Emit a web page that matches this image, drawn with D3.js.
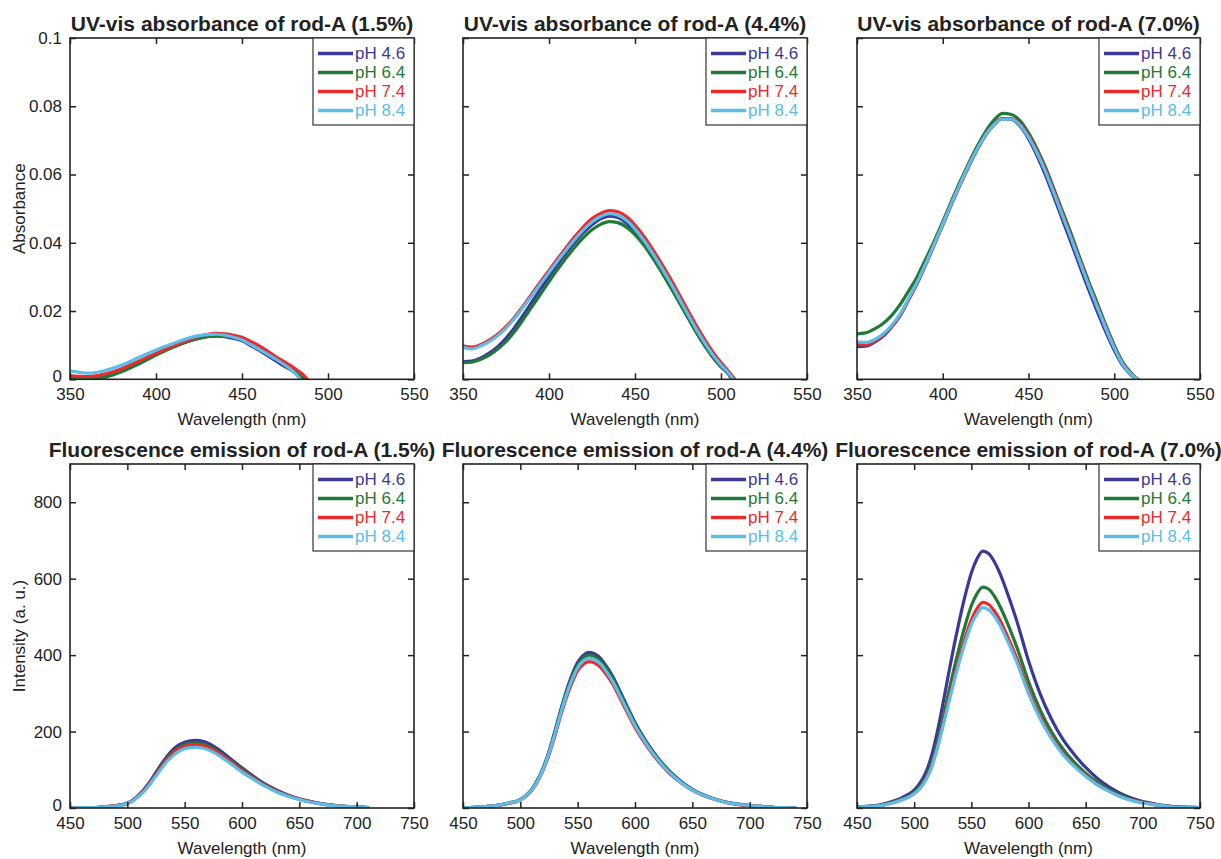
<!DOCTYPE html>
<html>
<head>
<meta charset="utf-8">
<script src="https://cdn.jsdelivr.net/npm/d3@7"></script>
<style>
  html, body { margin: 0; padding: 0; background: #fff; }
  svg { display: block; font-family: "Liberation Sans", Arial, sans-serif; }
</style>
</head>
<body>
<svg id="chart" width="1221" height="859"></svg>
<script>
// ---------------- DATA ----------------
const seriesNames = ["pH 4.6", "pH 6.4", "pH 7.4", "pH 8.4"];
const seriesColors = ["#3b3996", "#1f7a36", "#ec2a2c", "#5bbde9"];

const uvXTicks = [350, 400, 450, 500, 550];
const uvYTicks = [0, 0.02, 0.04, 0.06, 0.08, 0.1];
const uvYTickLabels = ["0", "0.02", "0.04", "0.06", "0.08", "0.1"];
const emXTicks = [450, 500, 550, 600, 650, 700, 750];
const emYTicks = [0, 200, 400, 600, 800];
const emYTickLabels = ["0", "200", "400", "600", "800"];

const titles = [
  "UV-vis absorbance of rod-A (1.5%)", "UV-vis absorbance of rod-A (4.4%)", "UV-vis absorbance of rod-A (7.0%)",
  "Fluorescence emission of rod-A (1.5%)", "Fluorescence emission of rod-A (4.4%)", "Fluorescence emission of rod-A (7.0%)"
];

// UV-vis, 1.5 %
const uvWl15 = [350,355,360,365,370,375,380,385,390,395,400,405,410,415,420,425,430,435,440,445,450,455,460,465,470,475,480,484,485,486,488];
const uv15_pH46 = [0.0006,0.0004,0.0003,0.0005,0.0010,0.0017,0.0025,0.0035,0.0046,0.0060,0.0074,0.0086,0.0097,0.0106,0.0114,0.0121,0.0126,0.0127,0.0125,0.0120,0.0113,0.0099,0.0085,0.0069,0.0053,0.0037,0.0022,0.0004,0,null,null];
const uv15_pH64 = [0,0,0,0.0001,0.0005,0.0013,0.0022,0.0033,0.0045,0.0058,0.0071,0.0083,0.0094,0.0104,0.0113,0.0120,0.0125,0.0127,0.0126,0.0124,0.0119,0.0106,0.0092,0.0075,0.0058,0.0042,0.0026,0.0009,0.0005,0,null];
const uv15_pH74 = [0.0010,0.0009,0.0008,0.0010,0.0015,0.0022,0.0031,0.0042,0.0053,0.0065,0.0076,0.0087,0.0098,0.0108,0.0117,0.0126,0.0132,0.0135,0.0133,0.0129,0.0123,0.0111,0.0098,0.0082,0.0065,0.0050,0.0034,0.0020,0.0016,0.0011,0];
const uv15_pH84 = [0.0025,0.0021,0.0018,0.0020,0.0025,0.0033,0.0041,0.0052,0.0064,0.0075,0.0086,0.0096,0.0105,0.0114,0.0122,0.0128,0.0131,0.0132,0.0129,0.0123,0.0115,0.0102,0.0088,0.0073,0.0058,0.0041,0.0022,0,null,null,null];

// UV-vis, 4.4 %
const uvWl44 = [350,355,360,365,370,375,380,385,390,395,400,405,410,415,420,425,430,435,440,445,450,455,460,465,470,475,480,485,490,495,500,505,506,507,508];
const uv44_pH46 = [0.0052,0.0053,0.0062,0.0076,0.0095,0.0120,0.0152,0.0188,0.0226,0.0264,0.0301,0.0337,0.0371,0.0402,0.0430,0.0453,0.0470,0.0478,0.0474,0.0458,0.0432,0.0399,0.0361,0.0320,0.0277,0.0233,0.0188,0.0143,0.0102,0.0066,0.0036,0.0011,0,null,null];
const uv44_pH64 = [0.0049,0.0050,0.0058,0.0070,0.0088,0.0110,0.0140,0.0175,0.0212,0.0249,0.0286,0.0322,0.0356,0.0387,0.0415,0.0438,0.0454,0.0462,0.0459,0.0446,0.0424,0.0394,0.0358,0.0318,0.0275,0.0232,0.0188,0.0144,0.0104,0.0068,0.0038,0.0012,0.0006,0,null];
const uv44_pH74 = [0.0098,0.0094,0.0101,0.0114,0.0131,0.0154,0.0182,0.0215,0.0250,0.0285,0.0319,0.0353,0.0386,0.0418,0.0447,0.0471,0.0486,0.0494,0.0491,0.0477,0.0452,0.0420,0.0383,0.0343,0.0300,0.0255,0.0209,0.0163,0.0121,0.0082,0.0049,0.0020,0.0013,0.0007,0];
const uv44_pH84 = [0.0094,0.0089,0.0097,0.0110,0.0127,0.0150,0.0178,0.0211,0.0245,0.0279,0.0313,0.0347,0.0379,0.0410,0.0438,0.0461,0.0477,0.0485,0.0481,0.0466,0.0440,0.0408,0.0371,0.0331,0.0288,0.0243,0.0197,0.0152,0.0111,0.0073,0.0042,0.0015,0.0008,0,null];

// UV-vis, 7.0 %
const uvWl70 = [350,355,360,365,370,375,380,385,390,395,400,405,410,415,420,425,430,435,440,445,450,455,460,465,470,475,480,485,490,495,500,505,510,513,514];
const uv70_pH46 = [0.0096,0.0097,0.0108,0.0125,0.0152,0.0185,0.0232,0.0280,0.0335,0.0393,0.0452,0.0511,0.0568,0.0622,0.0672,0.0715,0.0746,0.0764,0.0762,0.0742,0.0705,0.0655,0.0597,0.0532,0.0465,0.0398,0.0330,0.0263,0.0200,0.0140,0.0085,0.0040,0.0012,0,null];
const uv70_pH64 = [0.0133,0.0136,0.0147,0.0163,0.0186,0.0218,0.0258,0.0300,0.0352,0.0405,0.0462,0.0521,0.0578,0.0632,0.0682,0.0726,0.0760,0.0779,0.0776,0.0758,0.0722,0.0675,0.0620,0.0556,0.0490,0.0425,0.0355,0.0288,0.0225,0.0160,0.0100,0.0050,0.0018,0.0003,0];
const uv70_pH74 = [0.0102,0.0101,0.0111,0.0128,0.0154,0.0187,0.0233,0.0282,0.0337,0.0395,0.0454,0.0513,0.0570,0.0624,0.0674,0.0717,0.0749,0.0764,0.0764,0.0748,0.0714,0.0668,0.0612,0.0549,0.0482,0.0415,0.0347,0.0280,0.0216,0.0153,0.0094,0.0045,0.0015,0.0003,0];
const uv70_pH84 = [0.0110,0.0108,0.0116,0.0132,0.0157,0.0190,0.0236,0.0284,0.0338,0.0396,0.0455,0.0514,0.0571,0.0625,0.0674,0.0716,0.0747,0.0762,0.0762,0.0745,0.0710,0.0663,0.0607,0.0543,0.0477,0.0411,0.0343,0.0276,0.0213,0.0150,0.0092,0.0044,0.0014,0.0002,0];

// Fluorescence emission (shared wavelength grid)
const emWl = [450,460,470,480,490,500,505,510,515,520,525,530,535,540,545,550,555,560,565,570,575,580,590,600,610,620,630,640,650,660,670,680,690,700,710,720,730,740,750];
const em15_pH46 = [0,1,1,3,6,13,21,34,50,70,93,116,137,153,165,172,176,177,175,170,162,152,129,105,83,63,47,34,24,17,11,7,4,3,1,null,null,null,null];
const em15_pH64 = [0,1,1,3,6,12,20,33,48,67,89,111,132,147,158,165,169,170,168,163,156,146,124,101,80,61,45,33,23,16,11,7,4,3,1,null,null,null,null];
const em15_pH74 = [0,1,1,3,6,12,20,32,47,66,87,109,128,144,155,161,165,166,164,159,152,143,121,98,78,59,44,32,23,16,10,7,4,3,1,null,null,null,null];
const em15_pH84 = [0,1,1,3,5,12,19,31,45,63,84,104,123,137,148,155,158,159,157,153,146,137,116,94,75,57,42,31,22,15,10,6,4,3,1,null,null,null,null];

const em44_pH46 = [1,2,4,7,13,22,33,49,73,106,148,199,254,305,348,381,400,407,403,391,371,347,286,224,173,131,97,70,49,34,23,15,10,6,4,2,1,0,null];
const em44_pH64 = [1,2,4,7,13,22,32,48,72,104,145,196,250,300,342,374,393,400,396,384,365,341,281,220,170,129,95,69,48,33,23,15,10,6,4,2,1,0,null];
const em44_pH74 = [1,2,4,7,12,21,31,46,69,100,139,187,239,287,327,359,376,383,379,368,349,327,269,211,163,123,91,66,46,32,22,14,9,6,4,2,1,0,null];
const em44_pH84 = [1,2,4,7,13,21,32,47,70,102,143,192,245,294,335,367,385,392,388,377,357,334,275,216,167,126,93,67,47,33,22,14,10,6,4,2,1,0,null];

const em70_pH46 = [2,5,8,16,28,47,65,92,134,196,270,350,426,497,561,615,652,672,666,645,614,575,487,385,300,233,180,140,106,78,56,39,26,17,11,6,3,2,1];
const em70_pH64 = [2,4,7,14,24,40,56,79,115,169,232,301,366,427,482,529,561,578,573,555,528,495,419,331,258,200,155,120,91,67,48,34,22,15,9,5,3,2,1];
const em70_pH74 = [2,4,6,13,22,38,52,74,107,157,216,280,341,398,449,492,522,538,533,516,492,460,390,308,240,187,144,112,85,62,45,31,21,14,9,5,2,2,1];
const em70_pH84 = [2,4,6,12,22,37,51,72,104,153,211,273,332,388,437,480,508,524,519,503,479,448,380,300,234,182,140,109,83,61,44,30,20,13,9,5,2,2,1];

// ---------------- LAYOUT ----------------
const colX = [[70, 414], [463, 807], [857, 1200]];
const rowY = [[38, 379.3], [464, 808]];
const textColor = "#222";
const fontSize = 17;

const panels = [
  { row: 0, col: 0, wl: uvWl15, data: [uv15_pH46, uv15_pH64, uv15_pH74, uv15_pH84] },
  { row: 0, col: 1, wl: uvWl44, data: [uv44_pH46, uv44_pH64, uv44_pH74, uv44_pH84] },
  { row: 0, col: 2, wl: uvWl70, data: [uv70_pH46, uv70_pH64, uv70_pH74, uv70_pH84] },
  { row: 1, col: 0, wl: emWl, data: [em15_pH46, em15_pH64, em15_pH74, em15_pH84] },
  { row: 1, col: 1, wl: emWl, data: [em44_pH46, em44_pH64, em44_pH74, em44_pH84] },
  { row: 1, col: 2, wl: emWl, data: [em70_pH46, em70_pH64, em70_pH74, em70_pH84] }
];

const svg = d3.select("#chart");

panels.forEach((p, pi) => {
  const [x0, x1] = colX[p.col];
  const [y0, y1] = rowY[p.row];
  const isUV = p.row === 0;
  const x = d3.scaleLinear().domain(isUV ? [350, 550] : [450, 750]).range([x0, x1]);
  const y = d3.scaleLinear().domain(isUV ? [0, 0.1] : [0, 900]).range([y1, y0]);
  const xTicks = isUV ? uvXTicks : emXTicks;
  const yTicks = isUV ? uvYTicks : emYTicks;
  const yLabels = isUV ? uvYTickLabels : emYTickLabels;

  const g = svg.append("g");
  const clipId = "clip" + pi;
  svg.append("clipPath").attr("id", clipId).append("rect")
    .attr("x", x0).attr("y", y0).attr("width", x1 - x0).attr("height", y1 - y0);

  // curves
  const line = d3.line()
    .defined(d => d[1] !== null)
    .x(d => x(d[0])).y(d => y(d[1]))
    .curve(d3.curveMonotoneX);
  const cg = g.append("g").attr("clip-path", `url(#${clipId})`);
  p.data.forEach((vals, si) => {
    const pts = p.wl.map((w, i) => [w, vals[i]]);
    cg.append("path").datum(pts)
      .attr("d", line)
      .attr("fill", "none")
      .attr("stroke", seriesColors[si])
      .attr("stroke-width", 3.2)
      .attr("stroke-linejoin", "round")
      .attr("stroke-linecap", "round");
  });

  // axes (inward ticks on all sides)
  const styleAxis = sel => {
    sel.select(".domain").remove();
    sel.selectAll(".tick line").attr("stroke", textColor).attr("stroke-width", 1.5);
    sel.selectAll(".tick text").attr("fill", textColor).style("font-size", fontSize + "px")
      .style("font-family", '"Liberation Sans", Arial, sans-serif');
  };
  g.append("g").attr("transform", `translate(0,${y1})`)
    .call(d3.axisBottom(x).tickValues(xTicks).tickFormat(d3.format("d")).tickSize(-6).tickPadding(9))
    .call(styleAxis);
  g.append("g").attr("transform", `translate(0,${y0})`)
    .call(d3.axisTop(x).tickValues(xTicks).tickFormat("").tickSize(-6))
    .call(styleAxis);
  const yAx = g.append("g").attr("transform", `translate(${x0},0)`)
    .call(d3.axisLeft(y).tickValues(yTicks)
      .tickFormat((d, i) => p.col === 0 ? yLabels[i] : "").tickSize(-6).tickPadding(8))
    .call(styleAxis);
  // nudge the corner "0" label up slightly so it clears the first x label
  yAx.selectAll(".tick text").filter(d => d === 0).attr("dy", "0.15em");
  g.append("g").attr("transform", `translate(${x1},0)`)
    .call(d3.axisRight(y).tickValues(yTicks).tickFormat("").tickSize(-6))
    .call(styleAxis);

  // frame
  g.append("rect").attr("x", x0).attr("y", y0).attr("width", x1 - x0).attr("height", y1 - y0)
    .attr("fill", "none").attr("stroke", textColor).attr("stroke-width", 1.6);

  // title
  g.append("text").attr("x", (x0 + x1) / 2).attr("y", y0 - 7)
    .attr("text-anchor", "middle").attr("fill", textColor)
    .style("font-size", "21px").style("font-weight", "bold")
    .text(titles[pi]);

  // x label
  g.append("text").attr("x", (x0 + x1) / 2).attr("y", y1 + 46)
    .attr("text-anchor", "middle").attr("fill", textColor)
    .style("font-size", fontSize + "px").text("Wavelength (nm)");

  // y label
  if (p.col === 0) {
    g.append("text")
      .attr("transform", `translate(25,${(y0 + y1) / 2}) rotate(-90)`)
      .attr("text-anchor", "middle").attr("fill", textColor)
      .style("font-size", fontSize + "px")
      .text(isUV ? "Absorbance" : "Intensity (a. u.)");
  }

  // legend
  const lw = 101, lh = 87;
  const lg = g.append("g");
  lg.append("rect").attr("x", x1 - lw).attr("y", y0).attr("width", lw).attr("height", lh)
    .attr("fill", "#fff").attr("stroke", "#333").attr("stroke-width", 1.2);
  seriesNames.forEach((name, si) => {
    const ry = y0 + 15.5 + 19 * si;
    lg.append("line").attr("x1", x1 - 96).attr("x2", x1 - 61).attr("y1", ry).attr("y2", ry)
      .attr("stroke", seriesColors[si]).attr("stroke-width", 3.5);
    lg.append("text").attr("x", x1 - 59).attr("y", ry).attr("dy", "0.35em")
      .attr("fill", seriesColors[si]).style("font-size", fontSize + "px").text(name);
  });
});
</script>
</body>
</html>
